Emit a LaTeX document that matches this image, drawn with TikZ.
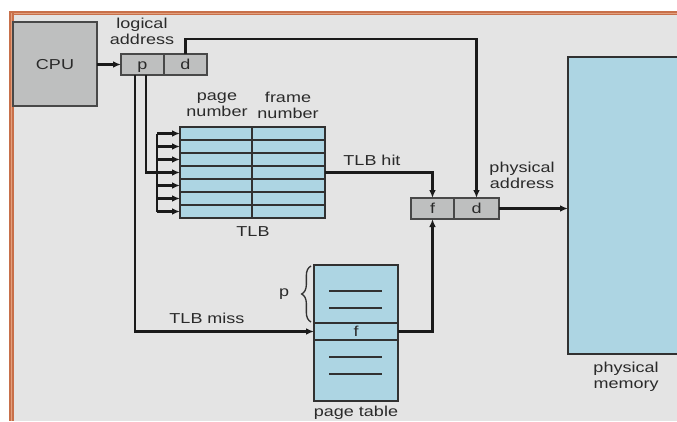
\documentclass[tikz,border=0pt]{standalone}
\usepackage{fontspec}
\setmainfont[FakeStretch=1.25]{Liberation Sans}
\usetikzlibrary{arrows.meta,fit,decorations.pathreplacing}
\definecolor{bg}{HTML}{E4E4E4}
\definecolor{boxgray}{HTML}{BEBFBF}
\definecolor{tlbblue}{HTML}{ADD5E3}
\definecolor{orangeA}{HTML}{C8704A}
\definecolor{orangeB}{HTML}{E3A07E}
\definecolor{linec}{HTML}{1A1A1A}
\definecolor{txt}{HTML}{2A2A2A}
\tikzset{
  base/.style={inner sep=0pt, outer sep=0pt, text=txt},
  gbox/.style={base, draw=linec!80, line width=1.5pt, fill=boxgray},
  bbox/.style={base, draw=linec!90, line width=1.5pt, fill=tlbblue},
  conn/.style={draw=linec, line width=1.7pt},
  arr/.style={conn, -{Latex[length=6pt,width=5pt]}},
  lbl/.style={base, align=center},
  inlbl/.style={base, anchor=base, yshift=-3.8pt},
  thin/.style={draw=linec!90, line width=1.2pt}
}
\begin{document}
\begin{tikzpicture}[x=0.75pt,y=-0.75pt,font=\fontsize{10.8}{12}\selectfont]
\useasboundingbox (0,0) rectangle (677,421);
% frame
\fill[white] (0,0) rectangle (677,421);
\fill[bg] (12,13) rectangle (677,421);
\fill[orangeA] (9,11) rectangle (677,15);
\fill[orangeB] (9,13) rectangle (677,14);
\fill[orangeA] (9,11) rectangle (14,421);
\fill[orangeB] (11,13) rectangle (12,421);

% boxes
\node[gbox, fit={(13,22)(97,106)}] (cpu) {};
\node[inlbl] at (cpu.center) {CPU};
\node[gbox, fit={(121,54)(164,75)}] (p) {};
\node[inlbl] at (p.center) {p};
\node[gbox, fit={(164,54)(207,75)}] (d) {};
\node[inlbl] at (d.center) {d};
\node[bbox, fit={(180,127)(325,218)}] (tlb) {};
\foreach \k in {1,...,6} \draw[thin] (180,127+13*\k) -- (325,127+13*\k);
\draw[thin] (252,127) -- (252,218);
\node[gbox, fit={(411,198)(454,219)}] (f) {};
\node[inlbl] at (f.center) {f};
\node[gbox, fit={(454,198)(499,219)}] (d2) {};
\node[inlbl] at (d2.center) {d};
\node[bbox, fit={(568,57)(700,354)}] (mem) {};
\node[bbox, fit={(314,265)(398,401)}] (pt) {};
\node[bbox, fit={(314,323)(398,340)}] (ptf) {};
\node[inlbl] at (ptf.center) {f};
\foreach \yy in {291,308,357,374} \draw[thin] (329,\yy) -- (382,\yy);

% labels
\node[lbl] (lla) at (142,31) {logical\\address};
\node[lbl] (lpn) at (217,105) {page\\number};
\node[lbl] (lfn) at (288,105) {frame\\number};
\node[lbl] (ltlb) at (253,232) {TLB};
\node[lbl] (lhit) at (372,160) {TLB hit};
\node[lbl] (lmiss) at (207,318) {TLB miss};
\node[lbl] (lpa) at (522,175) {physical\\address};
\node[lbl] (lpm) at (626,377) {physical\\memory};
\node[lbl] (lp) at (284,294) {p};
\node[lbl, anchor=base] (lpt) at (356,416.5) {page table};
\draw[line width=1pt, draw=linec!90, decorate, decoration={brace, amplitude=7pt}]
  (311,322) -- (311,266);

% connectors
\draw[arr] (cpu.east |- p.west) -- (p.west);
\draw[arr] (d.north) -- ++(0,-15) -| (d2.north);
\coordinate (pa) at (135,75);
\coordinate (pb) at (146,75);
\coordinate (busTop) at (157,133.5);
\coordinate (busBot) at (157,211.5);
\coordinate (bus4) at (157,172.5);
\draw[arr] (pa) |- (ptf.west);
\draw[conn] (pb) |- (bus4);
\draw[conn] (busTop) -- (busBot);
\foreach \k in {0,...,6}
  \draw[arr] (157,133.5+13*\k) -- (tlb.west |- 0,133.5+13*\k);
\draw[arr] (tlb.east) -| (f.north);
\draw[arr] (ptf.east) -| (f.south);
\draw[arr] (d2.east) -- (mem.west |- d2.east);
\end{tikzpicture}
\end{document}
